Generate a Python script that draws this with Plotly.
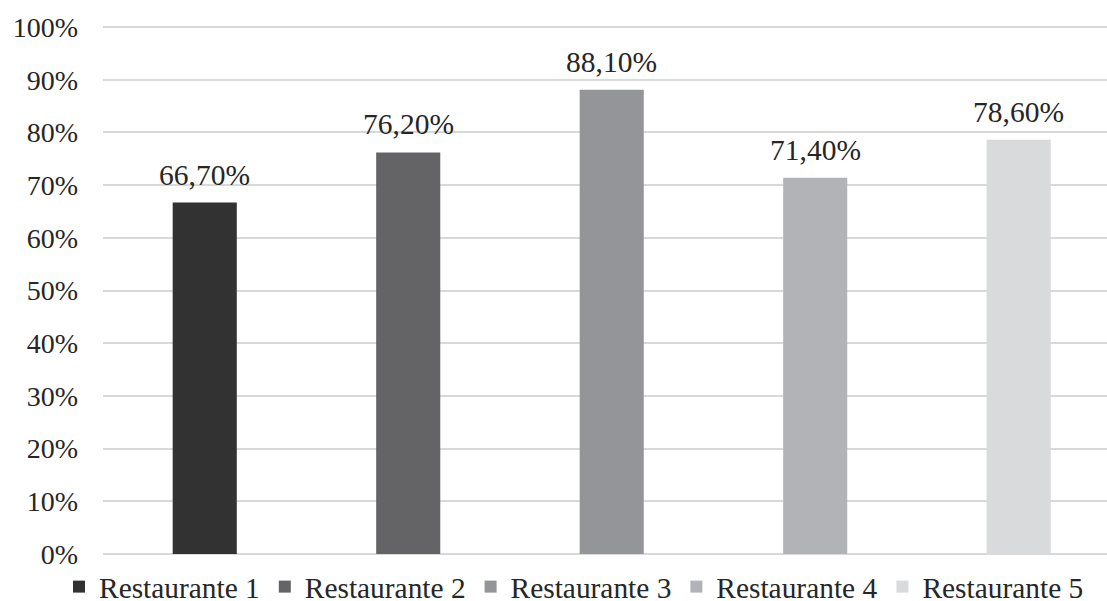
import plotly.graph_objects as go

categories = ["Restaurante 1", "Restaurante 2", "Restaurante 3", "Restaurante 4", "Restaurante 5"]
values = [66.7, 76.2, 88.1, 71.4, 78.6]
colors = ["#333233", "#646466", "#939598", "#b2b3b6", "#d9dadc"]
tick_vals = [0, 10, 20, 30, 40, 50, 60, 70, 80, 90, 100]
tick_text = [f"{v}%" for v in tick_vals]

FONT = "Liberation Serif, Times New Roman, serif"
TXT = "#262626"

fig = go.Figure()
for cat, val, col in zip(categories, values, colors):
    fig.add_trace(go.Bar(
        x=[cat], y=[val], name=cat, marker=dict(color=col, line=dict(width=0)),
        width=0.315, hoverinfo="skip",
    ))

annotations = []
for cat, val in zip(categories, values):
    annotations.append(dict(
        x=cat, y=val, xref="x", yref="y", text=f"{val:.2f}".replace(".", ",") + "%",
        showarrow=False, yanchor="bottom", yshift=10,
        font=dict(family=FONT, size=29.5, color=TXT),
    ))

fig.update_layout(
    width=1107, height=601,
    margin=dict(l=103, r=0, t=26, b=47, autoexpand=False),
    paper_bgcolor="white", plot_bgcolor="white",
    barmode="overlay",
    font=dict(family=FONT, size=28, color=TXT),
    showlegend=True,
    legend=dict(
        orientation="h", x=-0.0438, xanchor="left", y=-0.0625, yanchor="middle",
        font=dict(family=FONT, size=29.4, color=TXT), itemclick=False,
        tracegroupgap=0, traceorder="normal", bgcolor="rgba(0,0,0,0)",
    ),
    annotations=annotations,
)
fig.update_xaxes(
    range=[-0.5, 4.434], showticklabels=False, showgrid=False, zeroline=False,
    showline=False, ticks="",
)
fig.update_yaxes(
    range=[0, 100.2], tickmode="array", tickvals=tick_vals, ticktext=tick_text,
    showgrid=True, gridcolor="#d9d9d9", gridwidth=1.5, zeroline=True,
    zerolinecolor="#d9d9d9", zerolinewidth=1.5, showline=False, ticks="",
    ticklabelstandoff=24, tickfont=dict(family=FONT, size=28, color=TXT),
)

fig.write_html("out.html")
